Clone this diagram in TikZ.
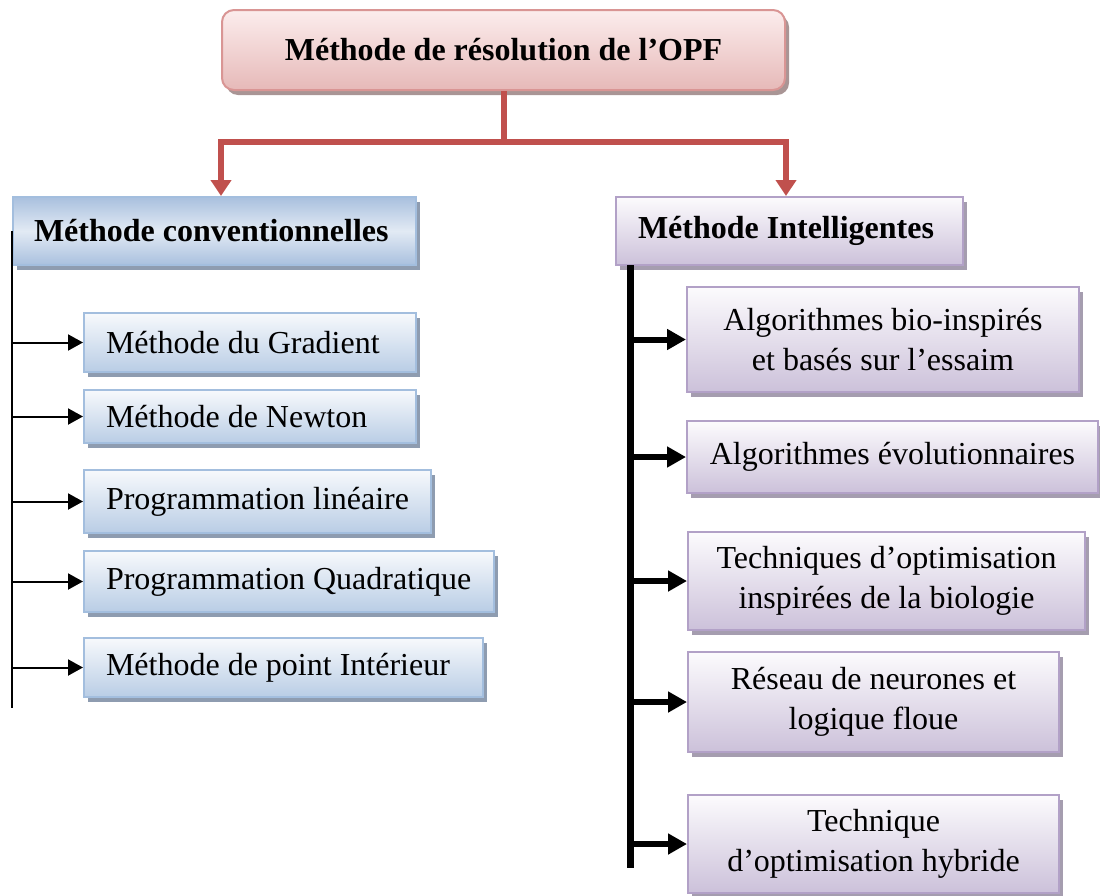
\documentclass[tikz,border=0pt]{standalone}
\usepackage{fontspec}
\setmainfont{Liberation Serif}
\usetikzlibrary{arrows.meta,shadows}

\definecolor{redline}{HTML}{C0504D}
\definecolor{pinktop}{HTML}{FCEDED}
\definecolor{pinkbot}{HTML}{E6B9B8}
\definecolor{pinkdraw}{HTML}{D99594}
\definecolor{pinkshadow}{HTML}{A99595}
\definecolor{bluetop}{HTML}{F7F9FC}
\definecolor{bluebot}{HTML}{B9CDE5}
\definecolor{bluedraw}{HTML}{A3BEDE}
\definecolor{blueshadow}{HTML}{8E9CB0}
\definecolor{bluedark}{HTML}{A9C0DE}
\definecolor{bluemid}{HTML}{E2EAF4}
\definecolor{purptop}{HTML}{FCFBFD}
\definecolor{purpbot}{HTML}{CCC1DA}
\definecolor{purpdraw}{HTML}{B2A1C7}
\definecolor{purpshadow}{HTML}{A59DAF}

% left-aligned label of fixed width
\newcommand{\lbl}[2]{\makebox[#1][l]{#2}}

\tikzset{
  every node/.style={font=\fontsize{32}{40}\selectfont},
  titlebox/.style={draw=pinkdraw, line width=2pt, rounded corners=12pt,
    top color=pinktop, bottom color=pinkbot,
    drop shadow={shadow xshift=4pt, shadow yshift=-5pt, fill=pinkshadow, opacity=1},
    minimum width=563pt, minimum height=80pt, font=\fontsize{32}{40}\selectfont\bfseries},
  bluehead/.style={draw=bluedraw, line width=2pt,
    top color=bluedark, bottom color=bluedark, middle color=bluemid,
    drop shadow={shadow xshift=4pt, shadow yshift=-5pt, fill=blueshadow, opacity=1},
    anchor=west, inner xsep=21pt, inner ysep=0pt, minimum height=68pt,
    font=\fontsize{32}{40}\selectfont\bfseries},
  bluebox/.style={draw=bluedraw, line width=2pt,
    top color=bluetop, bottom color=bluebot,
    drop shadow={shadow xshift=4pt, shadow yshift=-5pt, fill=blueshadow, opacity=1},
    anchor=west, inner xsep=22pt, inner ysep=0pt},
  purphead/.style={draw=purpdraw, line width=2pt,
    top color=purptop, bottom color=purpbot,
    drop shadow={shadow xshift=4pt, shadow yshift=-5pt, fill=purpshadow, opacity=1},
    anchor=west, inner xsep=22pt, inner ysep=0pt, minimum height=68pt,
    font=\fontsize{32}{40}\selectfont\bfseries},
  purpbox/.style={draw=purpdraw, line width=2pt,
    top color=purptop, bottom color=purpbot,
    drop shadow={shadow xshift=4pt, shadow yshift=-5pt, fill=purpshadow, opacity=1},
    align=center, inner sep=0pt},
  redarrow/.style={draw=redline, line width=6pt,
    -{Triangle[length=16pt,width=20pt]}},
  thinbus/.style={draw=black, line width=2pt},
  thickbus/.style={draw=black, line width=7pt},
  thinarrow/.style={draw=black, line width=2pt, -{Triangle[length=15pt,width=16pt]}},
  thickarrow/.style={draw=black, line width=6pt, -{Triangle[length=19pt,width=20pt]}},
}

\begin{document}
\begin{tikzpicture}[x=1pt, y=-1pt]
\useasboundingbox (0,0) rectangle (1100,895);

% root
\node[titlebox] (top) at (503.5,50) {Méthode de résolution de l’OPF};

% branch headers
\node[bluehead] (lhead) at (12,231) {\lbl{361pt}{Méthode conventionnelles}};
\node[purphead] (rhead) at (615,231) {\lbl{303pt}{Méthode Intelligentes}};

% conventional methods
\node[bluebox, minimum height=59pt] (l1) at (83,342.5) {\lbl{288pt}{Méthode du Gradient}};
\node[bluebox, minimum height=53pt] (l2) at (83,416.5) {\lbl{288pt}{Méthode de Newton}};
\node[bluebox, minimum height=63pt] (l3) at (83,501.5) {\lbl{303pt}{Programmation linéaire}};
\node[bluebox, minimum height=61pt] (l4) at (83,581.5) {\lbl{366pt}{Programmation Quadratique}};
\node[bluebox, minimum height=59pt] (l5) at (83,667.5) {\lbl{355pt}{Méthode de point Intérieur}};

% intelligent methods
\node[purpbox, minimum width=392pt, minimum height=105pt] (r1) at (883,339.5)
  {Algorithmes bio-inspirés\\et basés sur l’essaim};
\node[purpbox, minimum width=411pt, minimum height=72pt] (r2) at (892.5,457)
  {Algorithmes évolutionnaires};
\node[purpbox, minimum width=397pt, minimum height=98pt] (r3) at (886.5,581)
  {Techniques d’optimisation\\inspirées de la biologie};
\node[purpbox, minimum width=371pt, minimum height=100pt] (r4) at (873.5,702)
  {Réseau de neurones et\\logique floue};
\node[purpbox, minimum width=371pt, minimum height=98pt] (r5) at (873.5,844)
  {Technique\\d’optimisation hybride};

% root to branches
\coordinate (split) at (503.5,142);
\draw[redarrow] (top.south) -- (split) -| (top.south west |- lhead.north);
\draw[redarrow] (split) -| (top.south east |- rhead.north);

% left bus
\coordinate (lbusEnd) at (12,708);
\draw[thinbus] (lhead.west) -- (lbusEnd);
\foreach \n in {l1,l2,l3,l4,l5}
  \draw[thinarrow] (lbusEnd |- \n.west) -- (\n.west);

% right bus
\coordinate (rbusTop) at (630,265);
\coordinate (rbusEnd) at (630,868);
\draw[thickbus] (rbusTop) -- (rbusEnd);
\foreach \n in {r1,r2,r3,r4,r5}
  \draw[thickarrow] (rbusTop |- \n.west) -- (\n.west);
\end{tikzpicture}
\end{document}
